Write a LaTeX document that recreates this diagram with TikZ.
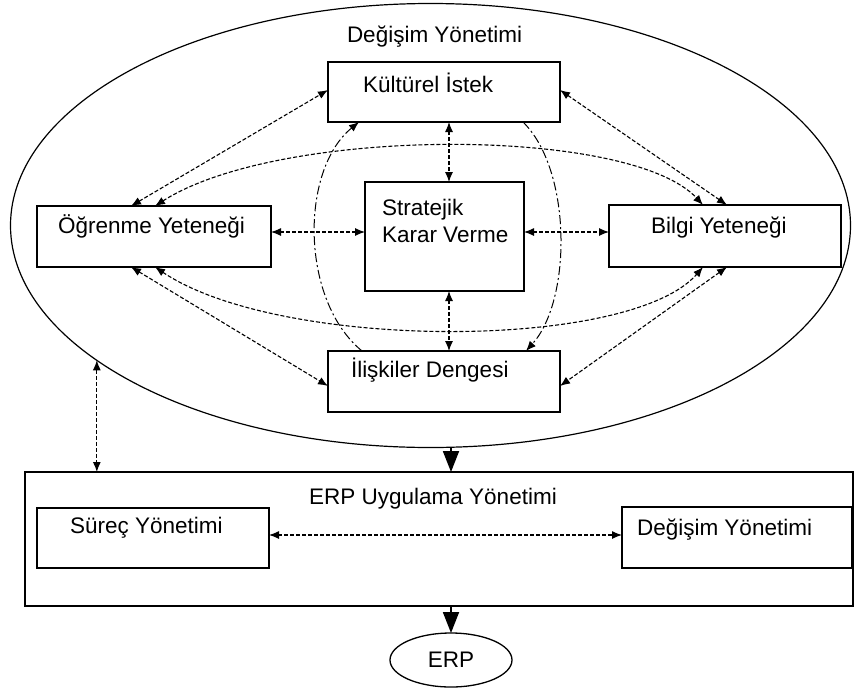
\documentclass[tikz,border=0pt]{standalone}
\usepackage{fontspec}
\setmainfont{Liberation Sans}
\usetikzlibrary{arrows.meta,shapes.geometric}
\begin{document}
\begin{tikzpicture}[x=1pt,y=-1pt,
  every node/.style={font=\fontsize{22.5}{27}\selectfont, inner sep=0pt, outer sep=0pt},
  box/.style={draw, line width=1.3pt, rectangle},
  txt/.style={anchor=base west},
  link/.style={line width=1.1pt, dash pattern=on 4pt off 2pt,
    {Latex[length=10pt,width=8pt]}-{Latex[length=10pt,width=8pt]}},
  sweep/.style={line width=1pt, dash pattern=on 9pt off 3pt on 2pt off 3pt,
    -{Latex[length=10pt,width=8pt]}},
  flow/.style={line width=1.8pt, -{Triangle[length=21pt,width=16pt]}}
]
\useasboundingbox (0,0) rectangle (854,694);

% change-management ellipse and its boxes
\node[draw, ellipse, line width=1.2pt, minimum width=840pt, minimum height=444pt] (chg) at (430.5,225.5) {};
\node[txt] (chgT) at (347,42) {Değişim Yönetimi};

\node[box, minimum width=232pt, minimum height=60pt] (kul) at (444,92) {};
\node[txt] (kulT) at (363,92) {Kültürel İstek};

\node[box, minimum width=159pt, minimum height=109pt] (str) at (444.5,236.5) {};
\node[txt] (strA) at (382,215) {Stratejik};
\node[txt] (strB) at (382,242) {Karar Verme};

\node[box, minimum width=234pt, minimum height=61pt] (ogr) at (154,236.5) {};
\node[txt] (ogrT) at (58,233) {Öğrenme Yeteneği};

\node[box, minimum width=232pt, minimum height=62pt] (bil) at (725,236) {};
\node[txt] (bilT) at (651,233) {Bilgi Yeteneği};

\node[box, minimum width=232pt, minimum height=61pt] (ili) at (444,381.5) {};
\node[txt] (iliT) at (351,377) {İlişkiler Dengesi};

% implementation box
\node[box, line width=1.2pt, minimum width=828pt, minimum height=134pt] (uyg) at (439,539) {};
\node[anchor=base] (uygT) at (433,504) {ERP Uygulama Yönetimi};

\node[box, minimum width=232pt, minimum height=60pt] (sur) at (153,538) {};
\node[txt] (surT) at (70,533) {Süreç Yönetimi};

\node[box, minimum width=230pt, minimum height=61pt] (deg) at (737,537.5) {};
\node[txt] (degT) at (637,535) {Değişim Yönetimi};

\node[draw, ellipse, line width=1.3pt, minimum width=122pt, minimum height=54pt] (erp) at (451,660) {ERP};

% links inside the ellipse
\draw[link] ([xshift=94pt]ogr.north west) -- ([yshift=2pt]kul.west);
\draw[link] ([yshift=2pt]kul.east) -- ([xshift=-114pt]bil.north east);
\draw[link] ([xshift=118pt]ogr.north west) .. controls (280,126) and (630,126) .. ([xshift=-138pt]bil.north east);
\draw[link] ([xshift=5pt]kul.south) -- ([xshift=4.5pt]str.north);
\draw[link] ([yshift=4.5pt]ogr.east) -- ([yshift=4.5pt]str.west);
\draw[link] ([yshift=4.5pt]str.east) -- ([yshift=4pt]bil.west);
\draw[link] ([xshift=4.5pt]str.south) -- ([xshift=5pt]ili.north);
\draw[link] ([xshift=94pt]ogr.south west) -- ([yshift=-4.5pt]ili.west);
\draw[link] ([xshift=-114pt]bil.south east) -- ([yshift=-4.5pt]ili.east);
\draw[link] ([xshift=118pt]ogr.south west) .. controls (280,351) and (630,351) .. ([xshift=-138pt]bil.south east);
\draw[sweep] ([xshift=34pt]ili.north west) .. controls (300,300) and (300,170) .. ([xshift=31pt]kul.south west);
\draw[sweep] ([xshift=-37pt]kul.south east) .. controls (572,170) and (572,300) .. ([xshift=-34pt]ili.north east);

% links between levels
\draw[link] (chg.202.3) -- (chg.202.3 |- uyg.north);
\draw[link] ([yshift=3pt]sur.east) -- ([yshift=2.5pt]deg.west);
\draw[flow] (erp.north |- chg.south) -- (erp.north |- uyg.north);
\draw[flow] (erp.north |- uyg.south) -- (erp.north);
\end{tikzpicture}
\end{document}
